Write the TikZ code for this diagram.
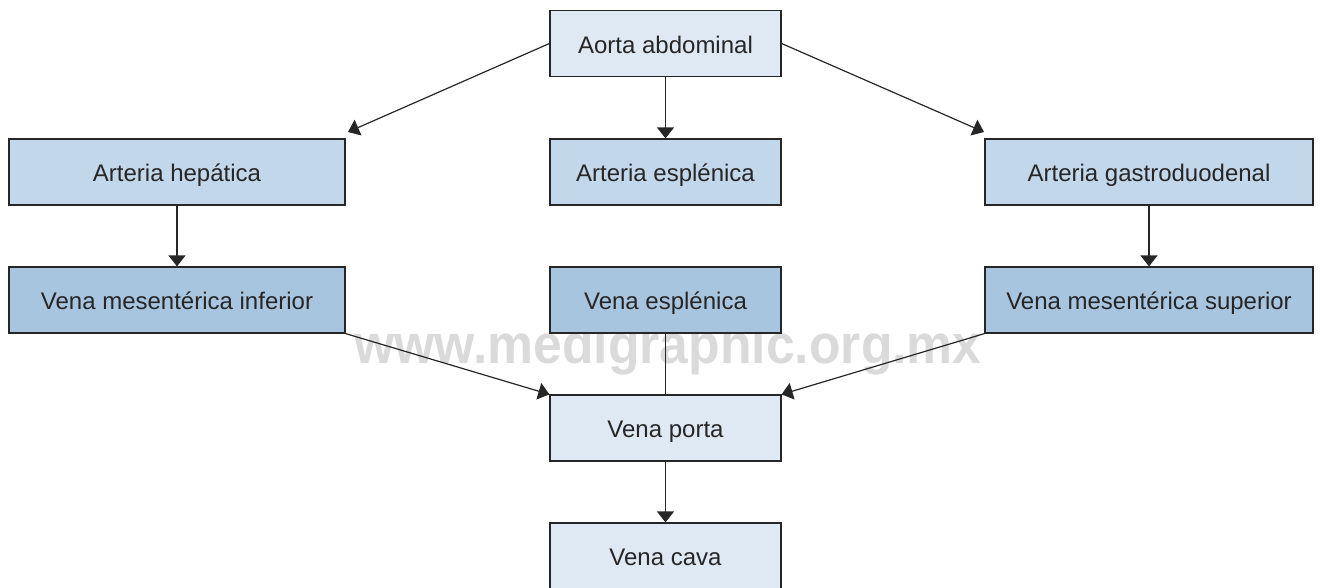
\documentclass[tikz,border=0pt]{standalone}
\usepackage{fontspec}
\setmainfont{Liberation Sans}
\usetikzlibrary{arrows.meta}
\definecolor{clight}{HTML}{DFE9F4}
\definecolor{cmid}{HTML}{C3D7EB}
\definecolor{cdark}{HTML}{A8C5E0}
\definecolor{wm}{HTML}{DADADA}
\begin{document}
\begin{tikzpicture}[x=1pt,y=-1pt,
  box/.style={draw=black!85,line width=1.2pt,minimum height=66pt,inner sep=0pt,
    font=\fontsize{24}{28}\selectfont,text=black!85,text height=19pt,text depth=0pt},
  light/.style={box,fill=clight,minimum width=231pt},
  mid/.style={box,fill=cmid},
  dark/.style={box,fill=cdark},
  conn/.style={draw=black!85,line width=1.2pt},
  arr/.style={conn,-{Triangle[width=17pt,length=11pt]}}]
\useasboundingbox (0,0) rectangle (1322,587);
\clip (0,0) rectangle (1322,587);
\node[font=\bfseries\fontsize{55}{60}\selectfont,text=wm,xscale=0.94,anchor=base,inner sep=0pt] (wmark) at (668,363) {www.medigraphic.org.mx};
\node[light] (aorta) at (665.5,43.5) {Aorta abdominal};
\node[mid,minimum width=336pt] (hep) at (177,172) {Arteria hepática};
\node[mid,minimum width=231pt] (esp) at (665.5,172) {Arteria esplénica};
\node[mid,minimum width=328pt] (gas) at (1149,172) {Arteria gastroduodenal};
\node[dark,minimum width=336pt] (vmi) at (177,300) {Vena mesentérica inferior};
\node[dark,minimum width=231pt] (ves) at (665.5,300) {Vena esplénica};
\node[dark,minimum width=328pt] (vms) at (1149,300) {Vena mesentérica superior};
\node[light] (porta) at (665.5,428) {Vena porta};
\node[light] (cava) at (665.5,556) {Vena cava};
\coordinate (hl) at (348,132);
\coordinate (gr) at (984,132);
\draw[arr] (aorta.west) -- (hl);
\draw[arr] (aorta.east) -- (gr);
\draw[arr] (aorta) -- (esp);
\draw[arr] (hep) -- (vmi);
\draw[arr] (gas) -- (vms);
\draw[arr] (vmi.south east) -- (porta.north west);
\draw[arr] (vms.south west) -- (porta.north east);
\draw[conn] (ves) -- (porta);
\draw[arr] (porta) -- (cava);
\end{tikzpicture}
\end{document}
